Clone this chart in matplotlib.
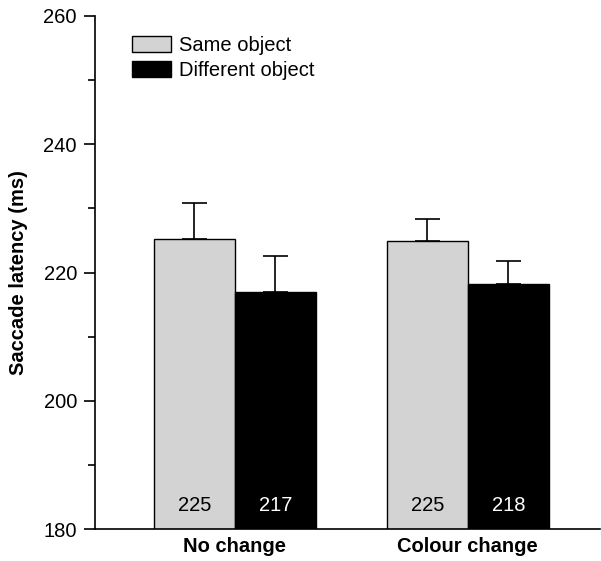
import numpy as np
import matplotlib.pyplot as plt
from matplotlib.ticker import MultipleLocator

plt.rcParams['font.family'] = ['Liberation Sans', 'DejaVu Sans']

conditions = ["No change", "Colour change"]
series = ["Same object", "Different object"]
same_means = [225.2, 224.9]
same_err = [5.7, 3.5]
diff_means = [216.9, 218.2]
diff_err = [5.7, 3.6]
value_labels_same = ["225", "225"]
value_labels_diff = ["217", "218"]

FS = 14.5

fig = plt.figure(figsize=(6.01, 5.61), dpi=100)
ax = fig.add_axes([0.158, 0.057, 0.84, 0.9145])

x = np.arange(1, len(conditions) + 1)
width = 0.348

ax.bar(x - width / 2, same_means, width, color="#d3d3d3", edgecolor="black",
       linewidth=1.0, label=series[0], zorder=2)
ax.bar(x + width / 2, diff_means, width, color="black", edgecolor="black",
       linewidth=1.0, label=series[1], zorder=2)

# one-sided error bars (upper only)
ax.errorbar(x - width / 2, same_means, yerr=[np.zeros(len(x)), same_err], fmt="none",
            ecolor="black", elinewidth=1.2, capsize=9, capthick=1.2, zorder=1)
ax.errorbar(x + width / 2, diff_means, yerr=[np.zeros(len(x)), diff_err], fmt="none",
            ecolor="black", elinewidth=1.2, capsize=9, capthick=1.2, zorder=3)

# value labels inside bars
for xi, lab in zip(x - width / 2, value_labels_same):
    ax.text(xi, 183.6, lab, ha="center", va="center", fontsize=FS, color="black", zorder=4)
for xi, lab in zip(x + width / 2, value_labels_diff):
    ax.text(xi, 183.6, lab, ha="center", va="center", fontsize=FS, color="white", zorder=4)

ax.set_ylim(180, 260)
ax.set_xlim(0.399, 2.567)
ax.yaxis.set_major_locator(MultipleLocator(20))
ax.yaxis.set_minor_locator(MultipleLocator(10))
ax.tick_params(axis="y", which="major", length=8, width=1.2, labelsize=FS, direction="out", pad=5)
ax.tick_params(axis="y", which="minor", length=5, width=1.2, direction="out")
ax.set_xticks(x)
ax.set_xticklabels(conditions, fontsize=FS, fontweight="bold")
ax.tick_params(axis="x", length=0, pad=6)

ax.spines["top"].set_visible(False)
ax.spines["right"].set_visible(False)
ax.spines["left"].set_linewidth(1.2)
ax.spines["bottom"].set_linewidth(1.2)

ax.set_ylabel("Saccade latency (ms)", fontsize=FS, fontweight="bold", labelpad=11)

ax.legend(loc="upper left", bbox_to_anchor=(0.034, 1.0), frameon=False, fontsize=FS,
          handlelength=1.9, handleheight=0.8, handletextpad=0.4, labelspacing=0.3,
          borderaxespad=0.6)

plt.savefig("out.png", dpi=100)
plt.close()
